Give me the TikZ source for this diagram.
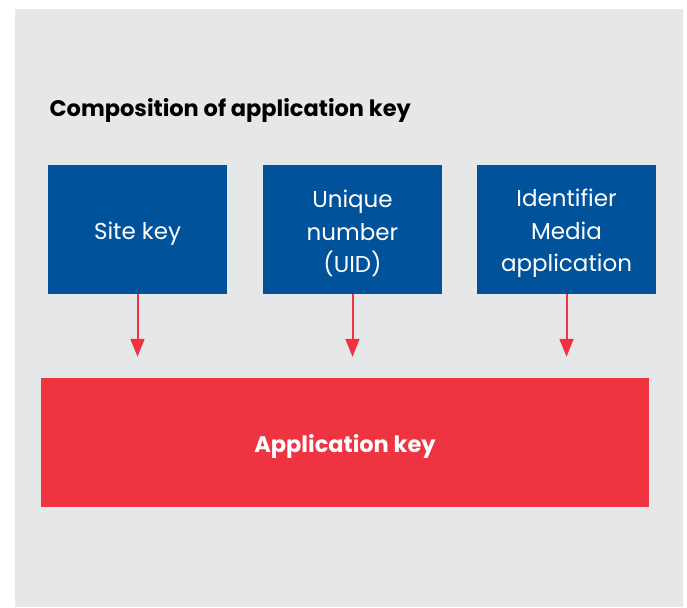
\documentclass[tikz,border=0pt]{standalone}
\usepackage{fontspec}
\setmainfont{Poppins}
\usetikzlibrary{arrows.meta}

\definecolor{keyblue}{RGB}{0,82,155}
\definecolor{keyred}{RGB}{239,51,64}
\definecolor{panelgray}{RGB}{230,231,232}

\tikzset{
  partbox/.style={fill=keyblue, minimum width=179pt, minimum height=129pt, inner sep=0pt},
  parttext/.style={text=white, align=center, inner sep=0pt, font=\fontsize{23}{32.5}\selectfont},
  feed/.style={draw=keyred, line width=2pt, -{Triangle[length=18pt,width=14pt]}, shorten >=21pt}
}

\begin{document}
\begin{tikzpicture}[x=1pt,y=-1pt]

\useasboundingbox (0,0) rectangle (687,607);
\fill[panelgray] (15,9) rectangle (683,607);

\node[anchor=base west, font=\fontsize{22.5}{26}\selectfont\bfseries] (title) at (46,117) {Composition of application key};

% blue parts
\node[partbox] (site) at (137.5,229.5) {};
\node[partbox] (uid)  at (352.5,229.5) {};
\node[partbox] (media) at (566.5,229.5) {};

\node[parttext] (sitetext) at ([yshift=-4pt]site.center) {Site key};
\node[parttext] (uidtext) at ([yshift=-4pt]uid.center) {Unique\\number\\(UID)};
\node[parttext] (mediatext) at ([yshift=-4pt]media.center) {Identifier\\Media\\application};

% result
\node[fill=keyred, minimum width=608pt, minimum height=129pt, inner sep=0pt] (appkey) at (345,442.5) {};
\node[text=white, inner sep=0pt, font=\fontsize{22.5}{26}\selectfont\bfseries] (appkeytext) at ([yshift=-4pt]appkey.center) {Application key};

\draw[feed] (site.south) -- (site.south |- appkey.north);
\draw[feed] (uid.south) -- (uid.south |- appkey.north);
\draw[feed] (media.south) -- (media.south |- appkey.north);

\end{tikzpicture}
\end{document}
